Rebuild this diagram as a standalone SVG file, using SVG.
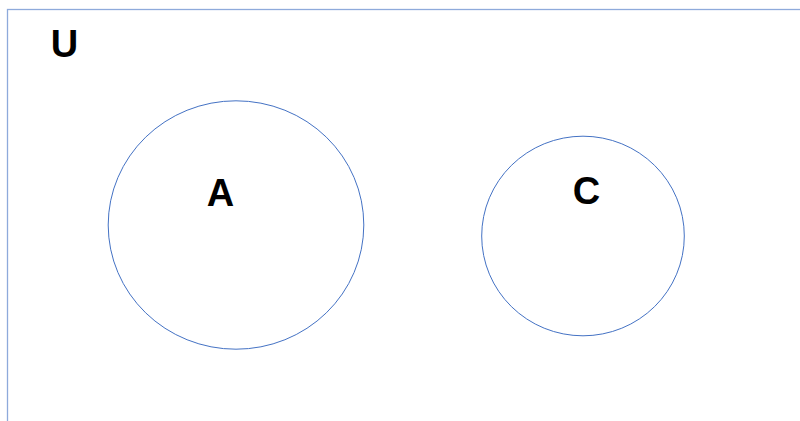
<svg xmlns="http://www.w3.org/2000/svg" width="800" height="421" viewBox="0 0 800 421">
  <style>
    .set { fill: none; stroke: #4472c4; stroke-width: 1; }
    .label { font-family: "Liberation Sans", Arial, sans-serif; font-weight: bold; font-size: 38px; fill: #000; text-anchor: middle; }
  </style>
  <rect width="800" height="421" fill="#fff"/>
  <!-- universal set frame, runs off the right and bottom edges -->
  <g id="universe">
    <rect x="7.5" y="9.5" width="810" height="430" fill="none" stroke="#8eaadb" stroke-width="1.3"/>
    <text class="label" x="64.5" y="57">U</text>
  </g>
  <g id="set-a">
    <ellipse class="set" cx="236" cy="225" rx="127.8" ry="124.2"/>
    <text class="label" x="220.5" y="206">A</text>
  </g>
  <g id="set-c">
    <ellipse class="set" cx="583" cy="236" rx="101.3" ry="99.8"/>
    <text class="label" x="586.5" y="204">C</text>
  </g>
  <g id="connectors"/>
</svg>
